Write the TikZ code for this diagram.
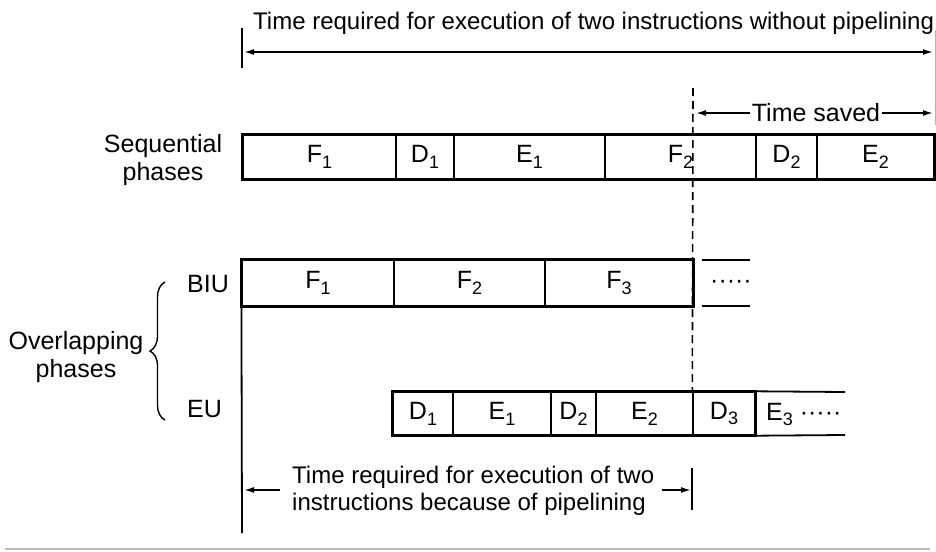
\documentclass[tikz,border=0pt]{standalone}
\usepackage{fontspec}
\setmainfont{Liberation Sans}
\usetikzlibrary{arrows.meta,decorations.pathreplacing}
\newcommand\sbx[1]{\raisebox{-0.45ex}{\fontsize{18}{18}\selectfont #1}}
\begin{document}
\begin{tikzpicture}[x=1pt,y=-1pt,
  font=\fontsize{25}{28}\selectfont,
  cell/.style={draw, line width=1.4pt, inner sep=0pt},
  seqc/.style={cell, minimum height=44pt},
  biuc/.style={cell, minimum height=46pt},
  euc/.style={cell, minimum height=43pt},
  outer/.style={line width=2.8pt},
  arr/.style={line width=1.6pt, -{Latex[length=10pt,width=6pt]}},
  tick/.style={line width=1.8pt},
  lbl/.style={inner sep=0pt, align=center},
  dimtxt/.style={inner sep=0pt, font=\fontsize{24}{27}\selectfont}]
\useasboundingbox (0,0) rectangle (936,551);

% top dimension
\node[dimtxt, anchor=base west] (toptxt) at (253,30) {Time required for execution of two instructions without pipelining};
\coordinate (tl) at (242,52);
\coordinate (tr) at (933,52);
\draw[tick] (242,28) -- (242,68);
\draw[line width=1.6pt, {Latex[length=10pt,width=6pt]}-{Latex[length=10pt,width=6pt]}] ([xshift=2pt]tl) -- (tr);
\draw[gray!60, line width=1pt] (935,30) -- (935,125);

% sequential row
\node[seqc, minimum width=153pt] (sF1) at (319.5,157) {F\sbx{1}};
\node[seqc, minimum width=58pt]  (sD1) at (425,157)   {D\sbx{1}};
\node[seqc, minimum width=151pt] (sE1) at (529.5,157) {E\sbx{1}};
\node[seqc, minimum width=151pt] (sF2) at (680.5,157) {F\sbx{2}};
\node[seqc, minimum width=61pt]  (sD2) at (786.5,157) {D\sbx{2}};
\node[seqc, minimum width=117pt] (sE2) at (875.5,157) {E\sbx{2}};
\draw[outer] (sF1.north west) rectangle (sE2.south east);
\node[lbl] (seqlbl) at (163,160) {Sequential\\phases};

% time saved
\coordinate (dtop) at (693,88);
\node[inner sep=2pt] (ts) at (816,113) {Time saved};
\coordinate (tsl) at (696,113);
\coordinate (tsr) at (933,113);
\draw[arr] (ts.west) -- (tsl);
\draw[arr] (ts.east) -- (tsr);

% BIU row
\node[biuc, minimum width=152pt] (bF1) at (318,283)   {F\sbx{1}};
\node[biuc, minimum width=151pt] (bF2) at (469.5,283) {F\sbx{2}};
\node[biuc, minimum width=148pt] (bF3) at (619,283)   {F\sbx{3}};
\draw[outer] (bF1.north west) rectangle (bF3.south east);
\coordinate (bx1) at (702,260);
\coordinate (bx2) at (750,260);
\coordinate (bx3) at (702,306);
\coordinate (bx4) at (750,306);
\draw[line width=1.6pt] (bx1) -- (bx2);
\draw[line width=1.6pt] (bx3) -- (bx4);
\node[inner sep=0pt] (bdots) at (731,284) {·····};
\node[inner sep=0pt, anchor=base west] (biu) at (187,292) {BIU};

% EU row
\node[euc, minimum width=60pt] (eD1) at (423,413.5)   {D\sbx{1}};
\node[euc, minimum width=98pt] (eE1) at (502,413.5)   {E\sbx{1}};
\node[euc, minimum width=45pt] (eD2) at (573.5,413.5) {D\sbx{2}};
\node[euc, minimum width=97pt] (eE2) at (644.5,413.5) {E\sbx{2}};
\node[euc, minimum width=62pt] (eD3) at (724,413.5)   {D\sbx{3}};
\draw[outer] (eD1.north west) rectangle (eD3.south east);
\coordinate (ex1) at (845,392);
\coordinate (ex2) at (845,435);
\draw[line width=1.8pt] (eD3.north east) -- (ex1);
\draw[line width=1.8pt] (eD3.south east) -- (ex2);
\node[inner sep=0pt, anchor=base west] (eE3) at (766,420) {E\sbx{3} ·····};
\node[inner sep=0pt, anchor=base west] (eu) at (187,417) {EU};

% dashed line
\draw[line width=1.6pt, dash pattern=on 8pt off 5pt] (dtop) -- (eD3.north west);

% brace and label
\coordinate (brb) at (165,420);
\coordinate (brt) at (165,282);
\draw[line width=1.4pt, decorate, decoration={brace, amplitude=15pt}] (brb) -- (brt);
\node[lbl] (ovl) at (76,357) {Overlapping\\phases};

% left vertical line
\coordinate (vbot) at (242,533);
\draw[tick] (bF1.north west) -- (vbot);

% bottom dimension
\node[dimtxt, anchor=north west, align=left] (bt) at (292,466) {Time required for execution of two\\instructions because of pipelining};
\coordinate (bl1) at (280,490);
\coordinate (bl2) at (244,490);
\coordinate (br1) at (662,490);
\coordinate (br2) at (691,490);
\draw[arr] (bl1) -- (bl2);
\draw[arr] (br1) -- (br2);
\draw[tick] (692,468) -- (692,510);

% bottom scan edge
\draw[gray!55, line width=1.6pt] (5,549) -- (930,549);
\end{tikzpicture}
\end{document}
